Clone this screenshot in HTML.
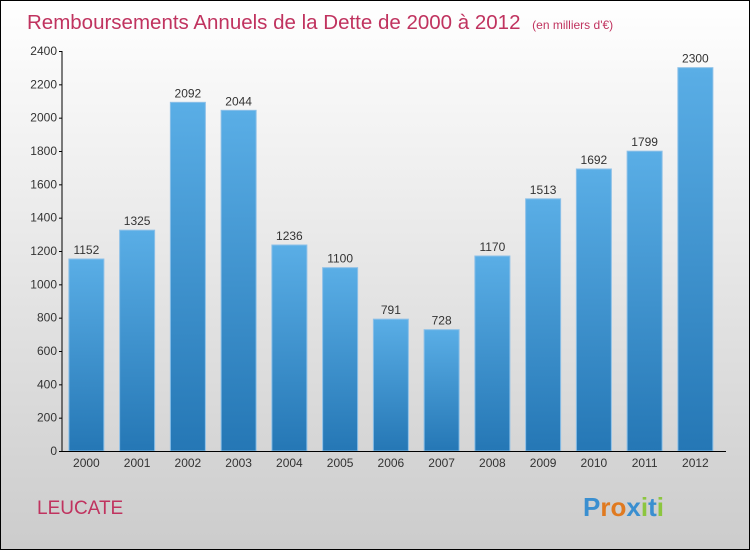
<!DOCTYPE html>
<html><head><meta charset="utf-8"><style>
body{margin:0}
#c{position:relative;width:748px;height:548px;border:1px solid #000;background:linear-gradient(#fff,#ccc);font-family:"Liberation Sans",sans-serif;overflow:hidden}
</style></head><body>
<div id="c">
<svg id="s" width="748" height="548" style="position:absolute;left:0;top:0">
<text x="26" y="28" font-size="20.5" fill="#c0335f">Remboursements Annuels de la Dette de 2000 à 2012 <tspan font-size="12" dx="6">(en milliers d'€)</tspan></text>
<text x="36" y="513" font-size="19" fill="#c0335f">LEUCATE</text>
<g font-size="26" font-weight="bold"><text x="582" y="515"><tspan fill="#3a8fd0">P</tspan><tspan fill="#e07a20">r</tspan><tspan fill="#e07a20">o</tspan><tspan fill="#3a8fd0">x</tspan><tspan fill="#8cc63f">i</tspan><tspan fill="#3a8fd0">t</tspan><tspan fill="#8cc63f">i</tspan></text></g>
<defs><linearGradient id="g" x1="0" y1="0" x2="0" y2="1"><stop offset="0" stop-color="#5aaee6"/><stop offset="1" stop-color="#2577b5"/></linearGradient></defs>
<g id="plot"></g>
</svg>
</div>
<script>
const categories=["2000","2001","2002","2003","2004","2005","2006","2007","2008","2009","2010","2011","2012"];
const values=[1152,1325,2092,2044,1236,1100,791,728,1170,1513,1692,1799,2300];
const yTicks=[0,200,400,600,800,1000,1200,1400,1600,1800,2000,2200,2400];
const X0=60,BW=50.75,Y0=450,YMAX=2400,YH=400;
const y=v=>Y0-v/YMAX*YH;
const xc=i=>X0+(i+0.5)*BW;
const NS="http://www.w3.org/2000/svg";
const p=document.getElementById('plot');
function mk(t,a){const e=document.createElementNS(NS,t);for(const k in a)e.setAttribute(k,a[k]);p.appendChild(e);return e;}
values.forEach((v,i)=>{
 const r=mk('rect',{x:xc(i)-17.5,y:y(v),width:35,height:Y0-y(v),fill:'url(#g)',stroke:'#8cc0e8','stroke-width':1});
 
 
 const t=mk('text',{x:xc(i),y:y(v)-5,'font-size':12,fill:'#333','text-anchor':'middle'});
 t.textContent=v;
 
 
 const c=mk('text',{x:xc(i),y:466,'font-size':12,fill:'#333','text-anchor':'middle'});
 c.textContent=categories[i];
 
 
});
const ax=mk('path',{d:`M61 ${y(YMAX)}V${Y0+0.5}H725`,stroke:'#000',fill:'none','stroke-width':1});


yTicks.forEach(v=>{
 const l=mk('line',{x1:58,x2:61,y1:y(v)+0.5,y2:y(v)+0.5,stroke:'#000'});
 
 
 const t=mk('text',{x:56,y:y(v)+4,'font-size':12,fill:'#333','text-anchor':'end'});
 t.textContent=v;
 
 
});
</script>
</body></html>
